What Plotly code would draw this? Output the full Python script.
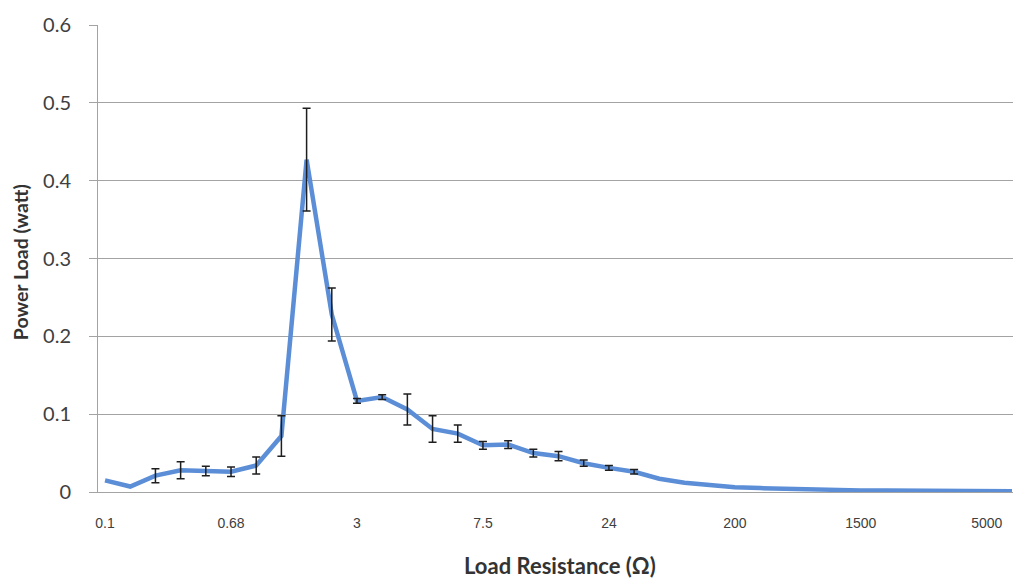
import plotly.graph_objects as go

# Category positions (0..36) and the tick labels shown on the category axis
point_index = list(range(37))
tick_positions = [0, 5, 10, 15, 20, 25, 30, 35]
tick_labels = ["0.1", "0.68", "3", "7.5", "24", "200", "1500", "5000"]

# Power load (watt) per category
power_load = [0.015, 0.007, 0.021, 0.028, 0.027, 0.026, 0.034, 0.072, 0.427,
              0.228, 0.117, 0.122, 0.106, 0.081, 0.075, 0.060, 0.061, 0.050,
              0.046, 0.037, 0.031, 0.026, 0.017, 0.012, 0.009, 0.006, 0.005,
              0.004, 0.003, 0.003, 0.002, 0.002, 0.002, 0.002, 0.002, 0.001,
              0.001]

# Symmetric error (watt); None where no error bar is drawn
power_error = [None, None, 0.009, 0.011, 0.006, 0.006, 0.011, 0.026, 0.066,
               0.034, 0.003, 0.003, 0.020, 0.017, 0.011, 0.005, 0.005, 0.005,
               0.006, 0.004, 0.003, 0.003, None, None, None, None, None,
               None, None, None, None, None, None, None, None, None,
               None]

y_ticks = [0, 0.1, 0.2, 0.3, 0.4, 0.5, 0.6]
y_tick_labels = ["0", "0.1", "0.2", "0.3", "0.4", "0.5", "0.6"]

# points that carry an error bar
err_x = [i for i, e in zip(point_index, power_error) if e is not None]
err_y = [v for v, e in zip(power_load, power_error) if e is not None]
err_v = [e for e in power_error if e is not None]

fig = go.Figure()
fig.add_trace(go.Scatter(
    x=point_index, y=power_load, mode="lines",
    line=dict(color="#5b8ed6", width=4.5),
    showlegend=False,
))
fig.add_trace(go.Scatter(
    x=err_x, y=err_y, mode="markers",
    marker=dict(size=1, opacity=0),
    error_y=dict(type="data", array=err_v, visible=True,
                 color="#1e1e1e", thickness=1.5, width=4),
    showlegend=False, hoverinfo="skip",
))

grid = "#a3a3a3"
fig.update_layout(
    width=1014, height=580,
    margin=dict(l=98, r=1, t=25, b=88),
    paper_bgcolor="white", plot_bgcolor="white",
    xaxis=dict(
        range=[-0.28, 36.04], tickmode="array",
        tickvals=tick_positions, ticktext=tick_labels,
        showgrid=False, zeroline=False,
        showline=True, linecolor=grid, linewidth=1,
        ticks="outside", ticklen=18, tickcolor="rgba(0,0,0,0)",
        tickfont=dict(family="Liberation Sans, Arial", size=14, color="#404040"),
    ),
    yaxis=dict(
        range=[0, 0.6], tickmode="array",
        tickvals=y_ticks, ticktext=y_tick_labels,
        showgrid=True, gridcolor=grid, gridwidth=1,
        zeroline=False, showline=True, linecolor=grid, linewidth=1,
        ticks="outside", ticklen=8, tickcolor=grid,
        ticklabelstandoff=14,
        tickfont=dict(family="Lato, Open Sans", size=20, color="#404040"),
    ),
    annotations=[
        dict(text="<b>Load Resistance (Ω)</b>", xref="paper", yref="paper",
             x=0.505, y=-0.158, xanchor="center", yanchor="middle",
             showarrow=False,
             font=dict(family="Lato, Open Sans", size=22, color="#333333")),
        dict(text="<b>Power Load (watt)</b>", xref="paper", yref="paper",
             x=-0.085, y=0.4925, xanchor="center", yanchor="middle",
             textangle=-90, showarrow=False,
             font=dict(family="Lato, Open Sans", size=19.5, color="#333333")),
    ],
)

fig.write_html("out.html")
